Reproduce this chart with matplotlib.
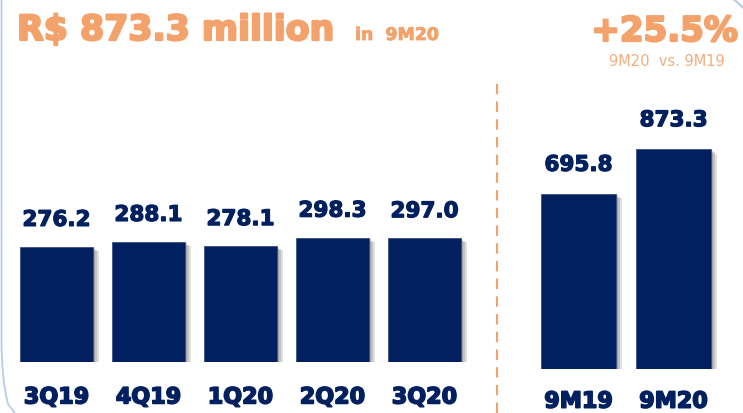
import numpy as np
import matplotlib
matplotlib.use("Agg")
import matplotlib.pyplot as plt
import matplotlib.patheffects as pe
from matplotlib.path import Path
from matplotlib.patches import PathPatch

quarters = ["3Q19", "4Q19", "1Q20", "2Q20", "3Q20"]
quarter_values = [276.2, 288.1, 278.1, 298.3, 297.0]
periods = ["9M19", "9M20"]
period_values = [695.8, 873.3]

NAVY = "#00205f"
ORANGE = "#f4a26b"
ORANGE_LIGHT = "#f5ad7c"
FRAME = "#b9cbe8"

W, H = 743, 414
fig = plt.figure(figsize=(W / 100, H / 100), dpi=100)
fig.patch.set_facecolor("white")

def px_axes(left, bottom, width, height):
    # axes placed in pixel units measured from the top-left corner
    return fig.add_axes([left / W, (H - bottom) / H, width / W, height / H])

def heavy(color, lw=0.9):
    # thicken bold glyphs a little
    return [pe.withStroke(linewidth=lw, foreground=color)]

shadow = [pe.SimplePatchShadow(offset=(4.5, -3), shadow_rgbFace="#9a9a9a", alpha=0.3),
          pe.SimplePatchShadow(offset=(3, -2), shadow_rgbFace="#7a7a7a", alpha=0.3),
          pe.SimplePatchShadow(offset=(1.5, -1), shadow_rgbFace="#5f5f5f", alpha=0.3),
          pe.Normal()]

# quarterly bars
ax1 = px_axes(0, 363, 497, 363)
x1 = np.arange(len(quarters))
bars1 = ax1.bar(x1, quarter_values, width=0.79, color=NAVY, edgecolor="#3a4f85", linewidth=0.6)
for b in bars1:
    b.set_path_effects(shadow)
ax1.set_xlim(-56.5 / 92, (497 - 56.5) / 92)
ax1.set_ylim(0, 363 / 0.4165)
for xi, v in zip(x1, quarter_values):
    ax1.annotate(f"{v:.1f}", (xi, v), xytext=(0, 19.5), textcoords="offset points",
                 ha="center", va="center", fontsize=15.5, fontweight="bold", color=NAVY,
                 path_effects=heavy(NAVY))
for xi, lab in zip(x1, quarters):
    ax1.annotate(lab, (xi, 0), xytext=(0, -25.5), textcoords="offset points",
                 ha="center", va="center", fontsize=16, fontweight="bold", color=NAVY,
                 annotation_clip=False, path_effects=heavy(NAVY, 1.2))
ax1.axis("off")

# nine-month totals
ax2 = px_axes(497, 370, 246, 370)
x2 = np.arange(len(periods))
bars2 = ax2.bar(x2, period_values, width=0.79, color=NAVY, edgecolor="#3a4f85", linewidth=0.6)
for b in bars2:
    b.set_path_effects(shadow)
ax2.set_xlim(-81.5 / 95, (246 - 81.5) / 95)
ax2.set_ylim(0, 370 / 0.2515)
for xi, v in zip(x2, period_values):
    ax2.annotate(f"{v:.1f}", (xi, v), xytext=(0, 21), textcoords="offset points",
                 ha="center", va="center", fontsize=15.5, fontweight="bold", color=NAVY,
                 path_effects=heavy(NAVY))
for xi, lab in zip(x2, periods):
    ax2.annotate(lab, (xi, 0), xytext=(0, -23.5), textcoords="offset points",
                 ha="center", va="center", fontsize=16, fontweight="bold", color=NAVY,
                 annotation_clip=False, path_effects=heavy(NAVY, 1.2))
ax2.axis("off")

# separator
fig.add_artist(plt.Line2D([497 / W, 497 / W], [0, 1 - 80 / H], color=ORANGE,
                          lw=1.5, dashes=(5, 3.5)))

# frame edges
left_edge = Path([(1.5, 0), (1.5, 340), (1.5, 380), (8, 405), (15, 414)],
                 [Path.MOVETO, Path.LINETO, Path.CURVE3, Path.CURVE3, Path.LINETO])
corner = Path([(733, 0), (739, 4), (743, 9)], [Path.MOVETO, Path.CURVE3, Path.CURVE3])
for p, lw in ((left_edge, 1.3), (corner, 1.6)):
    verts = np.array([(vx / W, 1 - vy / H) for vx, vy in p.vertices])
    fig.add_artist(PathPatch(Path(verts, p.codes), transform=fig.transFigure,
                             fill=False, edgecolor=FRAME, lw=lw))

# headline texts
fig.text(17 / W, 1 - 41 / H, "R$ 873.3 million", fontsize=25, fontweight="bold",
         color=ORANGE, ha="left", va="baseline", path_effects=heavy(ORANGE, 1.6))
fig.text(355 / W, 1 - 41 / H, "in  9M20", fontsize=12.5, fontweight="bold",
         color=ORANGE, ha="left", va="baseline", path_effects=heavy(ORANGE, 0.6))
fig.text(738 / W, 1 - 42 / H, "+25.5%", fontsize=24.5, fontweight="bold",
         color=ORANGE, ha="right", va="baseline", path_effects=heavy(ORANGE, 1.6))
fig.text(725 / W, 1 - 66 / H, "9M20  vs. 9M19", fontsize=10.5,
         color=ORANGE_LIGHT, ha="right", va="baseline")

fig.savefig("out.png", dpi=100, facecolor="white")
